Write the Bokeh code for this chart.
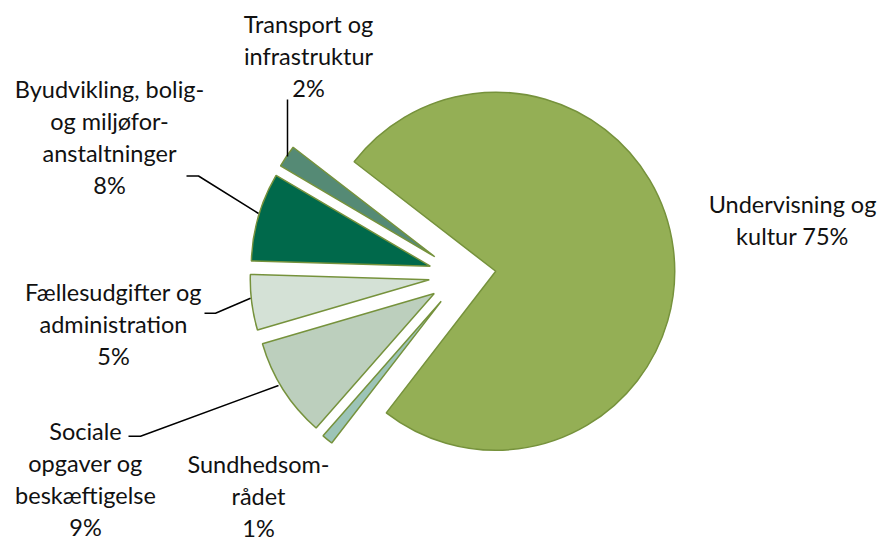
import numpy as np
from bokeh.plotting import figure
from bokeh.models import Range1d, ColumnDataSource
from bokeh.core.properties import value
from bokeh.embed import file_html
from bokeh.resources import INLINE

# ---- data ----
categories = ["Undervisning og kultur", "Sundhedsområdet", "Sociale opgaver og beskæftigelse",
              "Fællesudgifter og administration", "Byudvikling, bolig- og miljøforanstaltninger",
              "Transport og infrastruktur"]
shares = [75, 1, 9, 5, 8, 2]
label_lines = [["Undervisning og", "kultur 75%"],
               ["Sundhedsom-", "rådet", "1%"],
               ["Sociale", "opgaver og", "beskæftigelse", "9%"],
               ["Fællesudgifter og", "administration", "5%"],
               ["Byudvikling, bolig-", "og miljøfor-", "anstaltninger", "8%"],
               ["Transport og", "infrastruktur", "2%"]]
colors = ["#94AF55", "#9CC4B7", "#BCCFBD", "#D4E1D6", "#00694B", "#558A75"]

# ---- layout (screen pixels, y down) ----
W, H = 883, 541
center = (462, 275)
R = 179
explode = 33.5
first_angle = 142.3  # degrees, math convention, slices go clockwise
label_pos = [(792, 203), (258, 463), (85, 430), (113, 291), (109, 88), (308, 23)]
line_step = 32.3
leaders = [[(287, 99), (287, 156)],
           [(186, 175.5), (198, 175.5), (258, 213)],
           [(204, 312.7), (215, 312.7), (250, 297.7)],
           [(128, 435.7), (140, 435.7), (278, 385)]]

vals = np.array(shares, dtype=float)
cum = np.concatenate([[0], np.cumsum(vals)[:-1]])
total = vals.sum()
end_deg = first_angle - cum / total * 360
start_deg = end_deg - vals / total * 360
mid = np.radians((start_deg + end_deg) / 2)
cx, cy = center[0], H - center[1]
src = ColumnDataSource(dict(
    x=cx + explode * np.cos(mid),
    y=cy + explode * np.sin(mid),
    start=np.radians(start_deg),
    end=np.radians(end_deg),
    color=colors,
    name=categories,
))

p = figure(width=W, height=H, x_range=Range1d(0, W), y_range=Range1d(0, H),
           output_backend="svg", toolbar_location=None,
           x_axis_type=None, y_axis_type=None, min_border=0)
p.grid.visible = False
p.outline_line_color = None
p.background_fill_color = "white"
p.border_fill_color = "white"

p.wedge(x="x", y="y", radius=R, start_angle="start", end_angle="end",
        fill_color="color", line_color="#76923C", line_width=1.5, source=src)

for pts in leaders:
    p.line([q[0] for q in pts], [H - q[1] for q in pts], line_color="#000000", line_width=1.5)

tx, ty, tt = [], [], []
for (lx, ly), lines in zip(label_pos, label_lines):
    for k, t in enumerate(lines):
        tx.append(lx)
        ty.append(H - (ly + k * line_step))
        tt.append(t)
p.text(x=tx, y=ty, text=tt, text_font=value("Lato"), text_font_size="23.5px",
       text_align="center", text_baseline="middle", text_color="#111111")

open("out.html", "w").write(file_html(p, INLINE))
